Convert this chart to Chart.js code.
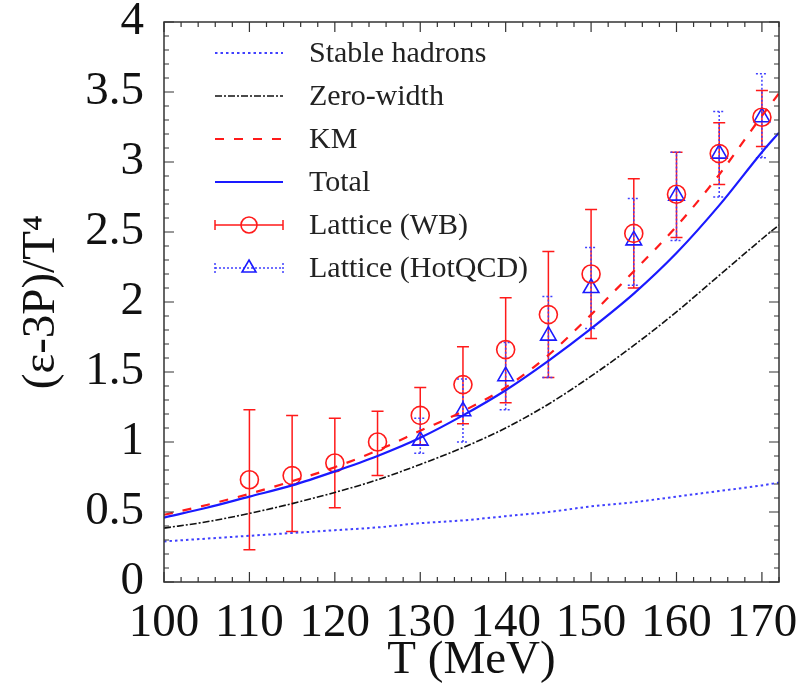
<!DOCTYPE html>
<html><head><meta charset="utf-8">
<script src="https://cdn.jsdelivr.net/npm/chart.js@4.4.1/dist/chart.umd.min.js"></script>
<style>html,body{margin:0;padding:0;background:#fff}#wrap{width:804px;height:689px;position:relative}</style>
</head><body><div id="wrap"><canvas id="c" width="804" height="689"></canvas></div>
<script>
// ---- data ----
const T_CURVE = [100,105,110,115,120,125,130,135,140,145,150,155,160,165,170,172];
const stableHadrons = [0.29,0.31,0.33,0.35,0.37,0.39,0.42,0.44,0.47,0.50,0.54,0.57,0.61,0.65,0.69,0.71];
const zeroWidth     = [0.385,0.43,0.49,0.56,0.64,0.73,0.84,0.96,1.10,1.27,1.47,1.69,1.93,2.19,2.45,2.55];
const kmCurve       = [0.48,0.55,0.63,0.72,0.82,0.94,1.08,1.22,1.39,1.62,1.91,2.22,2.54,2.91,3.33,3.49];
const totalCurve    = [0.46,0.53,0.61,0.69,0.79,0.90,1.03,1.19,1.37,1.58,1.81,2.06,2.35,2.69,3.07,3.21];

const T_WB   = [110,115,120,125,130,135,140,145,150,155,160,165,170];
const wbVal  = [0.73,0.76,0.85,1.00,1.19,1.41,1.66,1.91,2.20,2.49,2.77,3.06,3.32];
const wbLow  = [0.23,0.36,0.53,0.76,0.98,1.13,1.28,1.46,1.74,2.10,2.46,2.84,3.11];
const wbHigh = [1.23,1.19,1.17,1.22,1.39,1.68,2.03,2.36,2.66,2.88,3.07,3.28,3.51];

const T_HOT   = [130,135,140,145,150,155,160,165,170];
const hotVal  = [1.01,1.22,1.47,1.76,2.10,2.44,2.76,3.06,3.32];
const hotLow  = [0.92,1.00,1.23,1.46,1.81,2.12,2.44,2.75,3.03];
const hotHigh = [1.17,1.45,1.71,2.04,2.39,2.74,3.07,3.36,3.63];

const xTicks = [100,110,120,130,140,150,160,170];
const yTicks = [0,0.5,1,1.5,2,2.5,3,3.5,4];
const xLabel = 'T (MeV)';
const yLabel = '(ε-3P)/T⁴';
const seriesNames = ['Stable hadrons','Zero-width','KM','Total','Lattice (WB)','Lattice (HotQCD)'];

// ---- styles ----
const RED = '#ff1a1a', BLUE = '#1a1aff', BLUE_L = '#4040ff', BLACK = '#111';
const FONT = 'Liberation Serif, Times New Roman, serif';
const zip = (xs, ys) => xs.map((x, i) => ({x, y: ys[i]}));

const lineDs = (label, ys, color, width, dash) => ({
  type: 'line', label, data: zip(T_CURVE, ys), borderColor: color, borderWidth: width,
  borderDash: dash, pointRadius: 0, fill: false, cubicInterpolationMode: 'monotone'
});

const datasets = [
  lineDs(seriesNames[0], stableHadrons, BLUE_L, 2, [2.5, 3]),
  lineDs(seriesNames[1], zeroWidth, BLACK, 1.6, [7, 2, 2, 2]),
  lineDs(seriesNames[2], kmCurve, RED, 2.2, [9, 10]),
  lineDs(seriesNames[3], totalCurve, BLUE, 2.2, []),
  { type: 'line', label: seriesNames[4], data: zip(T_WB, wbVal), showLine: false,
    pointStyle: 'circle', pointRadius: 9, borderColor: RED, backgroundColor: 'rgba(0,0,0,0)', borderWidth: 1.6,
    errLow: wbLow, errHigh: wbHigh, errDash: [] , errColor: RED},
  { type: 'line', label: seriesNames[5], data: zip(T_HOT, hotVal), showLine: false,
    pointStyle: 'triangle', pointRadius: 9, borderColor: BLUE, backgroundColor: 'rgba(0,0,0,0)', borderWidth: 1.6,
    errLow: hotLow, errHigh: hotHigh, errDash: [2, 2], errColor: BLUE_L}
];

// error bars drawn through the chart scales
const errorBars = {
  id: 'errorBars',
  beforeDatasetsDraw(chart) {
    const {ctx, chartArea: a, scales: {x, y}} = chart;
    ctx.save();
    ctx.beginPath(); ctx.rect(a.left, a.top, a.right - a.left, a.bottom - a.top); ctx.clip();
    chart.data.datasets.forEach(ds => {
      if (!ds.errLow) return;
      ctx.strokeStyle = ds.errColor; ctx.lineWidth = 1.5; ctx.setLineDash(ds.errDash);
      ds.data.forEach((p, i) => {
        const px = x.getPixelForValue(p.x);
        const lo = y.getPixelForValue(ds.errLow[i]), hi = y.getPixelForValue(ds.errHigh[i]);
        ctx.beginPath();
        ctx.moveTo(px, lo); ctx.lineTo(px, hi);
        ctx.moveTo(px - 6, lo); ctx.lineTo(px + 6, lo);
        ctx.moveTo(px - 6, hi); ctx.lineTo(px + 6, hi);
        ctx.stroke();
      });
    });
    ctx.restore();
  }
};

// frame with inward ticks on all four sides
const frame = {
  id: 'frame',
  afterDraw(chart) {
    const {ctx, chartArea: a, scales: {x, y}} = chart;
    ctx.save();
    ctx.strokeStyle = '#333'; ctx.lineWidth = 1.5; ctx.setLineDash([]);
    ctx.strokeRect(a.left, a.top, a.right - a.left, a.bottom - a.top);
    ctx.lineWidth = 1.2;
    ctx.beginPath();
    for (let v = x.min; v <= x.max + 1e-9; v += 2) {
      const px = x.getPixelForValue(v);
      const len = (Math.abs(v % 10) < 1e-6) ? 10 : 5;
      ctx.moveTo(px, a.bottom); ctx.lineTo(px, a.bottom - len);
      ctx.moveTo(px, a.top); ctx.lineTo(px, a.top + len);
    }
    for (let k = 0; k <= 40; k++) {
      const v = k / 10;
      const py = y.getPixelForValue(v);
      const len = (k % 5 === 0) ? 10 : 5;
      ctx.moveTo(a.left, py); ctx.lineTo(a.left + len, py);
      ctx.moveTo(a.right, py); ctx.lineTo(a.right - len, py);
    }
    ctx.stroke();
    ctx.restore();
  }
};

// legend inside the plot
const insideLegend = {
  id: 'insideLegend',
  afterDraw(chart) {
    const {ctx, chartArea: a} = chart;
    ctx.save();
    const x0 = a.left + 51, x1 = a.left + 119, tx = a.left + 145;
    chart.data.datasets.forEach((ds, i) => {
      const yy = a.top + 31 + i * 43;
      ctx.strokeStyle = ds.borderColor;
      ctx.lineWidth = ds.borderWidth;
      if (ds.errLow) {
        ctx.strokeStyle = ds.errColor; ctx.lineWidth = 1.5;
        ctx.setLineDash(ds.errDash);
        ctx.beginPath();
        ctx.moveTo(x0, yy); ctx.lineTo(x1, yy);
        ctx.moveTo(x0, yy - 5); ctx.lineTo(x0, yy + 5);
        ctx.moveTo(x1, yy - 5); ctx.lineTo(x1, yy + 5);
        ctx.stroke();
        ctx.setLineDash([]);
        ctx.strokeStyle = ds.borderColor; ctx.lineWidth = 1.6;
        const cx = (x0 + x1) / 2, r = 8;
        ctx.beginPath();
        if (ds.pointStyle === 'circle') {
          ctx.arc(cx, yy, r, 0, Math.PI * 2);
        } else {
          ctx.moveTo(cx, yy - r); ctx.lineTo(cx + r * 0.87, yy + r * 0.5);
          ctx.lineTo(cx - r * 0.87, yy + r * 0.5); ctx.closePath();
        }
        ctx.stroke();
      } else {
        ctx.setLineDash(ds.borderDash || []);
        ctx.beginPath(); ctx.moveTo(x0, yy); ctx.lineTo(x1, yy); ctx.stroke();
      }
      ctx.setLineDash([]);
      ctx.fillStyle = '#222';
      ctx.font = '30px ' + FONT;
      ctx.textBaseline = 'middle'; ctx.textAlign = 'left';
      ctx.fillText(ds.label, tx, yy + 1);
    });
    ctx.restore();
  }
};

new Chart(document.getElementById('c'), {
  data: { datasets },
  options: {
    responsive: false, animation: false, devicePixelRatio: 1,
    layout: { padding: { top: 22, right: 25, left: 0, bottom: 0 } },
    plugins: { legend: { display: false }, tooltip: { enabled: false } },
    scales: {
      x: {
        type: 'linear', min: 100, max: 172,
        afterBuildTicks: s => { s.ticks = xTicks.map(v => ({value: v})); },
        afterFit: s => { s.height = 107; s.paddingRight = 0; s.paddingLeft = 0; },
        grid: { display: false }, border: { display: false },
        ticks: { font: { family: FONT, size: 47, lineHeight: 1.0 }, color: '#111', padding: 10, maxRotation: 0, autoSkip: false },
        title: { display: true, text: xLabel, font: { family: FONT, size: 47, lineHeight: 1.0 }, color: '#111', padding: { top: 0, bottom: 5 } }
      },
      y: {
        type: 'linear', min: 0, max: 4,
        afterBuildTicks: s => { s.ticks = yTicks.map(v => ({value: v})); },
        afterFit: s => { s.width = 164; s.paddingTop = 0; s.paddingBottom = 0; },
        grid: { display: false }, border: { display: false },
        ticks: { font: { family: FONT, size: 47, lineHeight: 1.0 }, color: '#111', padding: 12, autoSkip: false, callback: v => String(v) },
        title: { display: true, text: yLabel, font: { family: FONT, size: 47, lineHeight: 1.0 }, color: '#111', padding: { top: 18, bottom: 0 } }
      }
    }
  },
  plugins: [errorBars, frame, insideLegend]
});
</script>
</body></html>
